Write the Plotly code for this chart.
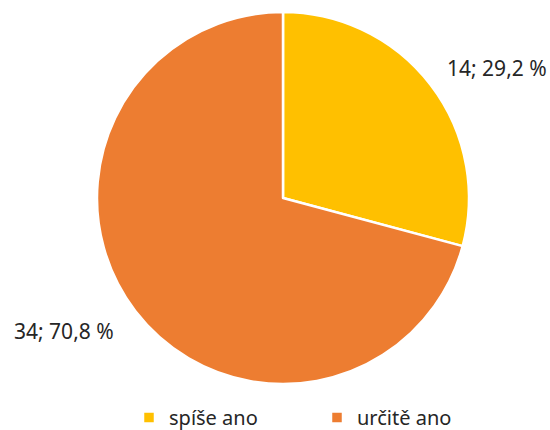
import plotly.graph_objects as go

# data
labels = ['spíše ano', 'určitě ano']
values = [14, 34]
percents = ['29,2 %', '70,8 %']
colors = ['#FFC000', '#ED7D31']

font_name = 'Noto Sans'

fig = go.Figure(go.Pie(labels=labels,
                       values=values,
                       sort=False,
                       direction='clockwise',
                       rotation=0,
                       textinfo='none',
                       hoverinfo='label+value+percent',
                       marker=dict(colors=colors, line=dict(color='white', width=2.5)),
                       domain=dict(x=[97 / 550, 469 / 550], y=[1 - 384 / 430, 1 - 12 / 430])))

# data labels placed outside like in the original
label_pos = [(497, 68), (64, 331)]
for v, p, (px, py) in zip(values, percents, label_pos):
    fig.add_annotation(x=px / 550, y=1 - py / 430, xref='paper', yref='paper',
                       xanchor='center', yanchor='middle',
                       text=f'{v}; {p}', showarrow=False,
                       font=dict(size=21, color='#262626', family=font_name))

fig.update_layout(width=550, height=430,
                  margin=dict(l=0, r=0, t=0, b=0, autoexpand=False),
                  paper_bgcolor='white',
                  plot_bgcolor='white',
                  font=dict(family=font_name, size=20, color='#262626'),
                  showlegend=True,
                  legend=dict(orientation='h', x=129 / 550, y=1 - 398 / 430,
                              xanchor='left', yanchor='top',
                              entrywidth=143, itemwidth=30,
                              font=dict(size=20, color='#262626')))

# drop the default page margin so the figure sits at the window corner
fig.write_html("out.html", config={'displayModeBar': False},
               post_script="document.body.style.margin='0';")
